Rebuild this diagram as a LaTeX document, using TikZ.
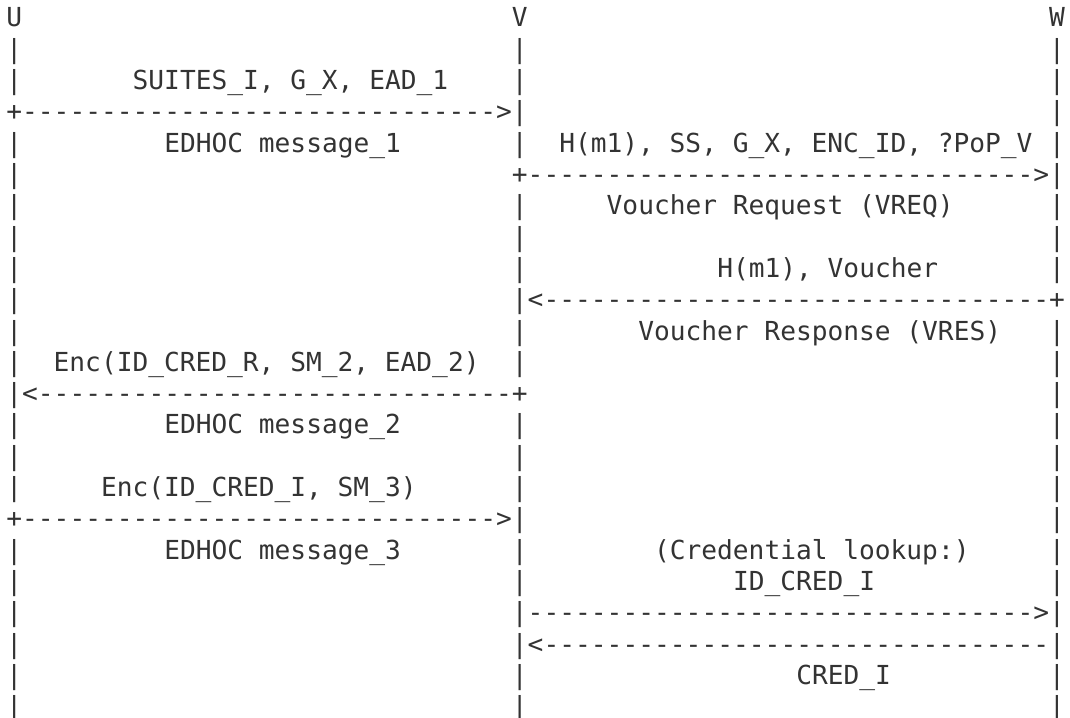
\documentclass[tikz,border=0pt]{standalone}
\usepackage{fontspec}
\newfontfamily\asciifont{DejaVu Sans Mono}
\definecolor{ink}{HTML}{333333}

\begin{document}
\begin{tikzpicture}
                [x=15.8pt, y=-31.3pt,
                 every node/.style={inner sep=0pt, anchor=base west, text=ink,
                   font=\asciifont\fontsize{26.2}{26.2}\selectfont}]
                \useasboundingbox (0pt,0pt) rectangle (1070pt,-717pt);
                \begin{scope}[shift={(6.1pt,-27pt)}]
                % parties
                \node (u) at (0,0) {U};
                \node (v) at (32,0) {V};
                \node (w) at (66,0) {W};
                % lifelines
                \foreach \r in {1,2,4,5,...,15,17,18,...,22}
                    \node (u-\r) at (0,\r) {|};
                \foreach \r in {1,2,3,4,6,7,...,11,13,14,...,22}
                    \node (v-\r) at (32,\r) {|};
                \foreach \r in {1,2,...,8,10,11,...,22}
                    \node (w-\r) at (66,\r) {|};
                % arrow shafts
                \foreach \r/\a/\b in {3/1/30, 16/1/30, 5/33/64, 9/34/65,
                                      12/2/31, 19/33/64, 20/34/65}
                    \foreach \c in {\a,...,\b}
                        \node (d-\r-\c) at (\c,\r) {-};
                % arrow ends
                \node (m1-tail) at (0,3) {+};
                \node (m1-head) at (31,3) {>};
                \node (vreq-tail) at (32,5) {+};
                \node (vreq-head) at (65,5) {>};
                \node (vres-head) at (33,9) {<};
                \node (vres-tail) at (66,9) {+};
                \node (m2-head) at (1,12) {<};
                \node (m2-tail) at (32,12) {+};
                \node (m3-tail) at (0,16) {+};
                \node (m3-head) at (31,16) {>};
                \node (look-head) at (65,19) {>};
                \node (cred-head) at (33,20) {<};
                % labels
                \node (m1-top) at (8,2) {SUITES\_I, G\_X, EAD\_1};
                \node (m1-bot) at (10,4) {EDHOC message\_1};
                \node (vreq-top) at (35,4) {H(m1), SS, G\_X, ENC\_ID, ?PoP\_V};
                \node (vreq-bot) at (38,6) {Voucher Request (VREQ)};
                \node (vres-top) at (45,8) {H(m1), Voucher};
                \node (vres-bot) at (40,10) {Voucher Response (VRES)};
                \node (m2-top) at (3,11) {Enc(ID\_CRED\_R, SM\_2, EAD\_2)};
                \node (m2-bot) at (10,13) {EDHOC message\_2};
                \node (m3-top) at (6,15) {Enc(ID\_CRED\_I, SM\_3)};
                \node (m3-bot) at (10,17) {EDHOC message\_3};
                \node (look-top) at (41,17) {(Credential lookup:)};
                \node (look-id) at (46,18) {ID\_CRED\_I};
                \node (cred-bot) at (50,21) {CRED\_I};
                \end{scope}
            \end{tikzpicture}
\end{document}
